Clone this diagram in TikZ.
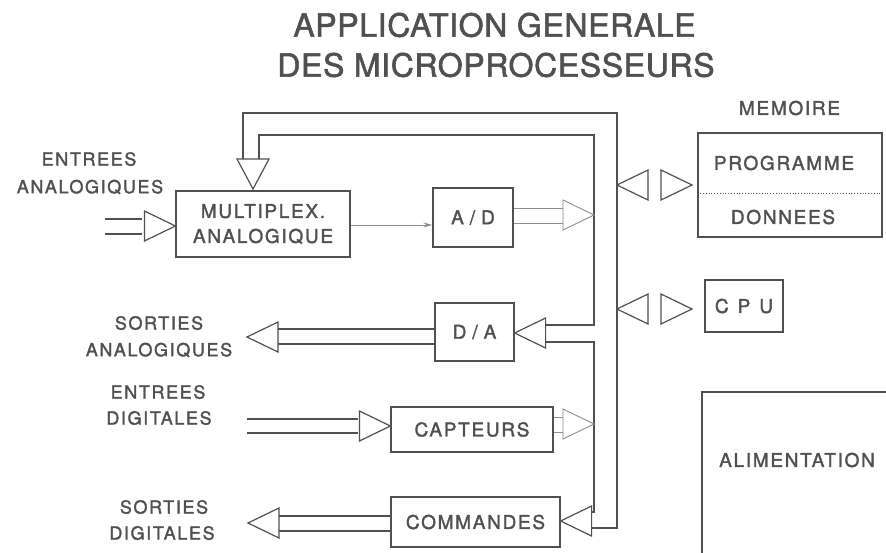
\documentclass[tikz,border=0pt]{standalone}
\usepackage{fontspec}
\setmainfont{TeX Gyre Heros}
\newfontfamily\lblfont[LetterSpace=9,FakeBold=1.7]{TeX Gyre Heros}
\newfontfamily\titlefont[LetterSpace=2,FakeBold=1.8]{TeX Gyre Heros}
\usetikzlibrary{arrows.meta}
\definecolor{ink}{HTML}{505050}
\definecolor{wire}{HTML}{505050}
\definecolor{lightwire}{HTML}{8C8C8C}
\tikzset{
  box/.style={draw=wire, rectangle, inner sep=0pt, text=ink, font=\lblfont\fontsize{19}{25}\selectfont, align=center},
  lbl/.style={inner sep=0pt, text=ink, font=\lblfont\fontsize{18}{22}\selectfont},
  blbl/.style={inner sep=0pt, text=ink, font=\lblfont\fontsize{19}{23}\selectfont},
  ttl/.style={inner sep=0pt, text=ink, font=\titlefont\fontsize{32}{36}\selectfont},
  faint/.style={draw=lightwire, line width=0.9pt},
  triR/.pic={\draw (0,0) -- (-31,-15) -- (-31,15) -- cycle;},
  triL/.pic={\draw (0,0) -- (31,-15) -- (31,15) -- cycle;},
  triD/.pic={\draw (0,0) -- (-16,-30) -- (16,-30) -- cycle;}
}
\begin{document}
\begin{tikzpicture}[x=1pt,y=-1pt,line width=1.2pt,color=wire,line join=miter]
\useasboundingbox (0,0) rectangle (886,552);

% title
\node[ttl] (t1) at (494.5,25) {APPLICATION GENERALE};
\node[ttl] (t2) at (496,65) {DES MICROPROCESSEURS};

% side labels
\node[lbl] (ea1) at (89,159) {ENTREES};
\node[lbl] (ea2) at (90,187) {ANALOGIQUES};
\node[lbl] (sa1) at (159,323) {SORTIES};
\node[lbl] (sa2) at (159,350) {ANALOGIQUES};
\node[lbl] (ed1) at (158,392) {ENTREES};
\node[lbl] (ed2) at (159,418) {DIGITALES};
\node[lbl] (sd1) at (164,507) {SORTIES};
\node[lbl] (sd2) at (162,533) {DIGITALES};

% boxes
\node[box, minimum width=174pt, minimum height=66pt] (mux) at (263,224) {MULTIPLEX.\\ANALOGIQUE};
\node[box, minimum width=80pt, minimum height=59pt] (ad) at (473,217.5) {A\hspace{6pt}/\hspace{6pt}D};
\node[box, minimum width=79pt, minimum height=58pt] (da) at (474.5,332) {D\hspace{6pt}/\hspace{6pt}A};
\node[box, minimum width=162pt, minimum height=45pt] (cap) at (472,429.5) {CAPTEURS};
\node[box, minimum width=169pt, minimum height=50pt] (com) at (475.5,522) {COMMANDES};
\node[box, minimum width=184pt, minimum height=104pt] (mem) at (790,185) {};
\node[box, minimum width=78pt, minimum height=52pt] (cpu) at (744,306) {C\hspace{9pt}P\hspace{9pt}U};
\node[blbl] (memt) at (789.5,108) {MEMOIRE};
\node[blbl] (prog) at (784,163) {PROGRAMME};
\node[blbl] (don) at (783,217) {DONNEES};
\node[blbl] (alimt) at (797,460) {ALIMENTATION};
\draw (890,392) -- (702,392) -- (702,556);
\draw[dotted, line width=0.8pt] (mem.west |- 0,193) -- (mem.east |- 0,193);

% named points
\coordinate (busO) at (617,113);
\coordinate (busI) at (594,135);

% multiplexer input
\draw (105,219) -- (142,219) (105,234) -- (142,234);
\pic at (mux.west |- 0,226) {triR};

% mux top triangle and bus
\pic at (253,189) {triD};
\draw (243,159) -- (243,113) -- (busO) -- (617,528) -- (591,528);
\draw (259,159) -- (259,135) -- (busI) -- (594,325) -- (545,325);
\draw (545,342) -- (594,342) -- (594,512) -- (591,512);

% mux -> A/D
\draw[faint, -{Stealth[length=9pt,width=5pt]}] (mux.east |- 0,225) -- (ad.west |- 0,225);

% A/D output
\draw[faint] (ad.east |- 0,208) -- (563,208) (ad.east |- 0,223) -- (563,223);
\pic[lightwire, line width=0.9pt] at (594,215) {triR};

% D/A input and output
\pic at (da.east |- 0,333) {triL};
\draw (da.west |- 0,329) -- (278,329) (da.west |- 0,344) -- (278,344);
\pic at (247,337) {triL};

% capteurs
\draw (247,419) -- (358,419) (247,433) -- (358,433);
\pic at (cap.west |- 0,426) {triR};
\draw[faint] (cap.east |- 0,417) -- (563,417) (cap.east |- 0,432) -- (563,432);
\pic[lightwire, line width=0.9pt] at (594,424) {triR};

% commandes
\pic at (com.east |- 0,521) {triL};
\draw (com.west |- 0,516) -- (279,516) (com.west |- 0,531) -- (279,531);
\pic at (248,523) {triL};

% memory and cpu link triangles
\pic at (busO |- 0,185) {triL};
\pic at (692,185) {triR};
\pic at (busO |- 0,309) {triL};
\pic at (692,309) {triR};
\end{tikzpicture}
\end{document}
